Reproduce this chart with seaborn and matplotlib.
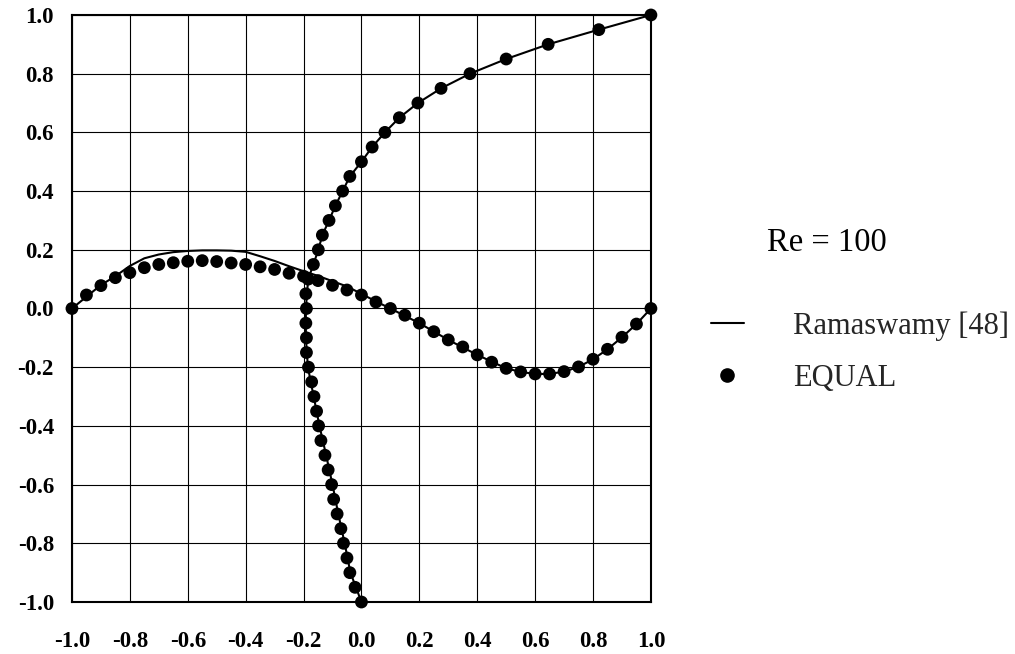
import numpy as np
import pandas as pd
import matplotlib
matplotlib.use("Agg")
import matplotlib.pyplot as plt
from matplotlib.lines import Line2D
import seaborn as sns

# v-velocity along the horizontal centre line (EQUAL dots)
v_x = [-1.00, -0.95, -0.90, -0.85, -0.80, -0.75, -0.70, -0.65, -0.60, -0.55,
       -0.50, -0.45, -0.40, -0.35, -0.30, -0.25, -0.20, -0.15, -0.10, -0.05,
       0.00, 0.05, 0.10, 0.15, 0.20, 0.25, 0.30, 0.35, 0.40, 0.45,
       0.50, 0.55, 0.60, 0.65, 0.70, 0.75, 0.80, 0.85, 0.90, 0.95, 1.00]
v_equal = [0.000, 0.046, 0.078, 0.105, 0.122, 0.139, 0.150, 0.156, 0.161, 0.163,
           0.160, 0.155, 0.150, 0.142, 0.133, 0.120, 0.110, 0.095, 0.079, 0.063,
           0.046, 0.022, 0.000, -0.023, -0.050, -0.079, -0.107, -0.131, -0.158, -0.183,
           -0.204, -0.216, -0.223, -0.223, -0.215, -0.199, -0.173, -0.139, -0.098, -0.053, 0.000]

# u-velocity along the vertical centre line (EQUAL dots)
u_y = [-1.00, -0.95, -0.90, -0.85, -0.80, -0.75, -0.70, -0.65, -0.60, -0.55,
       -0.50, -0.45, -0.40, -0.35, -0.30, -0.25, -0.20, -0.15, -0.10, -0.05,
       0.00, 0.05, 0.10, 0.15, 0.20, 0.25, 0.30, 0.35, 0.40, 0.45,
       0.50, 0.55, 0.60, 0.65, 0.70, 0.75, 0.80, 0.85, 0.90, 0.95, 1.00]
u_equal = [0.000, -0.022, -0.040, -0.050, -0.062, -0.071, -0.084, -0.096, -0.103, -0.115,
           -0.126, -0.140, -0.148, -0.155, -0.164, -0.172, -0.183, -0.190, -0.190, -0.192,
           -0.190, -0.192, -0.184, -0.166, -0.149, -0.135, -0.112, -0.090, -0.065, -0.040,
           0.000, 0.037, 0.081, 0.131, 0.195, 0.275, 0.375, 0.500, 0.645, 0.820, 1.000]

# Ramaswamy [48] reference curves
v_ref_x = [-1.00, -0.90, -0.85, -0.80, -0.75, -0.70, -0.65, -0.60, -0.55, -0.50,
           -0.45, -0.40, -0.35, -0.30, -0.25, -0.20, -0.15, -0.10, -0.05, 0.00,
           0.05, 0.10, 0.20, 0.30, 0.40, 0.50, 0.55, 0.60, 0.65, 0.70,
           0.75, 0.80, 0.85, 0.90, 0.95, 1.00]
v_ref = [0.000, 0.080, 0.110, 0.145, 0.171, 0.184, 0.192, 0.196, 0.198, 0.198,
         0.197, 0.193, 0.178, 0.162, 0.144, 0.127, 0.111, 0.093, 0.075, 0.050,
         0.024, 0.000, -0.050, -0.107, -0.158, -0.204, -0.216, -0.223, -0.223, -0.215,
         -0.199, -0.173, -0.139, -0.098, -0.053, 0.000]
u_ref_y = [-1.00, -0.90, -0.80, -0.70, -0.60, -0.50, -0.40, -0.30, -0.20, -0.10,
           0.00, 0.10, 0.15, 0.20, 0.25, 0.30, 0.35, 0.40, 0.45, 0.50,
           0.55, 0.60, 0.65, 0.70, 0.75, 0.80, 0.85, 0.90, 0.95, 1.00]
u_ref = [0.000, -0.038, -0.058, -0.080, -0.100, -0.122, -0.145, -0.165, -0.185, -0.192,
         -0.192, -0.184, -0.166, -0.149, -0.135, -0.112, -0.090, -0.065, -0.040, 0.000,
         0.037, 0.081, 0.131, 0.195, 0.275, 0.375, 0.500, 0.645, 0.820, 1.000]

ticks = [-1.0, -0.8, -0.6, -0.4, -0.2, 0.0, 0.2, 0.4, 0.6, 0.8, 1.0]
tick_labels = ["%.1f" % t for t in ticks]

sns.set_style("white")
plt.rcParams['font.family'] = ['Liberation Serif', 'DejaVu Serif']

fig = plt.figure(figsize=(10.15, 6.54), dpi=100)
ax = fig.add_axes([0.0709, 0.0795, 0.5704, 0.8976])

# reference lines
sns.lineplot(x=v_ref_x, y=v_ref, sort=False, estimator=None, color='black', lw=1.5, ax=ax)
sns.lineplot(x=u_ref, y=u_ref_y, sort=False, estimator=None, color='black', lw=1.5, ax=ax)

# EQUAL points
sns.scatterplot(x=v_x, y=v_equal, color='black', s=85, edgecolor='none', ax=ax, zorder=3, clip_on=False)
sns.scatterplot(x=u_equal, y=u_y, color='black', s=85, edgecolor='none', ax=ax, zorder=3, clip_on=False)

ax.set_xlim(-1.0, 1.0)
ax.set_ylim(-1.0, 1.0)
ax.set_xticks(ticks)
ax.set_yticks(ticks)
ax.set_xticklabels(tick_labels, fontsize=16.5, fontweight='bold')
ax.set_yticklabels(tick_labels, fontsize=16.5, fontweight='bold')
ax.tick_params(axis='x', direction='in', length=4, width=1.2, pad=21, colors='black')
ax.tick_params(axis='y', direction='in', length=4, width=1.2, pad=13, colors='black')
ax.grid(True, color='black', lw=0.8)
for sp in ax.spines.values():
    sp.set_color('black')
    sp.set_linewidth(1.5)
    sp.set_visible(True)

fig.text(0.7557, 0.629, "Re = 100", fontsize=23.5, va='center', ha='left', color='black')

handles = [Line2D([], [], color='black', lw=1.5),
           Line2D([], [], color='black', marker='o', ls='none', markersize=9.5)]
fig.legend(handles, ["Ramaswamy [48]", "EQUAL"], loc='upper left',
           bbox_to_anchor=(0.673, 0.566), frameon=False, fontsize=22,
           handlelength=1.1, handletextpad=1.6, labelspacing=0.75)

fig.savefig("out.png", dpi=100)
